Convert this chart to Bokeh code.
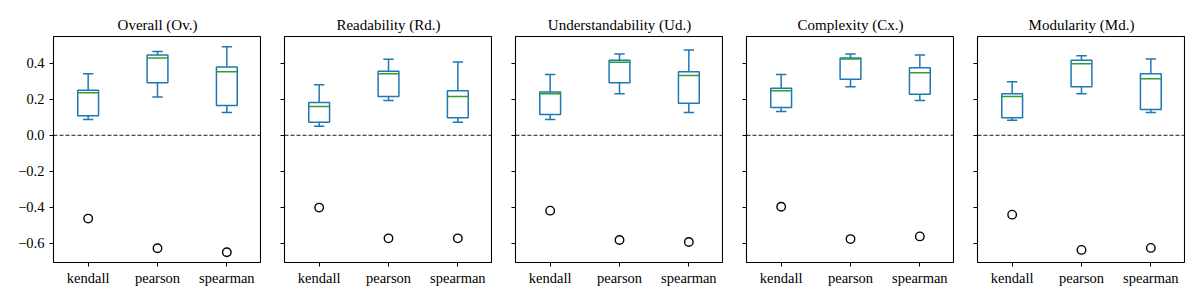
from bokeh.plotting import figure
from bokeh.layouts import row
from bokeh.models import Range1d, FixedTicker, CustomJSTickFormatter, Span, ColumnDataSource
from bokeh.embed import file_html
from bokeh.resources import INLINE

titles = ["Overall (Ov.)", "Readability (Rd.)", "Understandability (Ud.)",
          "Complexity (Cx.)", "Modularity (Md.)"]
methods = ["kendall", "pearson", "spearman"]

# one row per panel, one value per method
whisker_low = [[0.088, 0.213, 0.127], [0.050, 0.193, 0.072], [0.088, 0.231, 0.127],
               [0.132, 0.270, 0.193], [0.083, 0.231, 0.127]]
q1 = [[0.108, 0.292, 0.165], [0.073, 0.215, 0.097], [0.116, 0.292, 0.178],
      [0.154, 0.312, 0.228], [0.097, 0.270, 0.143]]
median = [[0.237, 0.430, 0.353], [0.160, 0.342, 0.215], [0.231, 0.406, 0.332],
          [0.248, 0.424, 0.347], [0.215, 0.397, 0.314]]
q3 = [[0.251, 0.446, 0.380], [0.182, 0.356, 0.248], [0.240, 0.417, 0.353],
      [0.262, 0.430, 0.375], [0.231, 0.417, 0.342]]
whisker_high = [[0.342, 0.466, 0.492], [0.281, 0.422, 0.408], [0.338, 0.452, 0.474],
                [0.338, 0.452, 0.446], [0.297, 0.442, 0.424]]
outliers = [[-0.463, -0.628, -0.650], [-0.402, -0.573, -0.573], [-0.419, -0.582, -0.593],
            [-0.397, -0.577, -0.562], [-0.441, -0.637, -0.626]]

y_ticks = [-0.6, -0.4, -0.2, 0.0, 0.2, 0.4]

FONT = "Liberation Serif"
BLUE = "#1f77b4"
GREEN = "#2ca02c"
LW = 1.5
BOX_HALF = 0.15
CAP_HALF = 0.075

all_vals = [v for grp in (whisker_high, outliers) for r in grp for v in r]
ymin, ymax = min(all_vals), max(all_vals)
pad = (ymax - ymin) * 0.05
y_lo, y_hi = ymin - pad, ymax + pad

figs = []
for i, title in enumerate(titles):
    first = i == 0
    p = figure(frame_width=208, frame_height=226,
               min_border_left=53 if first else 23, min_border_right=0,
               min_border_top=36, min_border_bottom=26,
               x_range=Range1d(0.5, 3.5), y_range=Range1d(y_lo, y_hi),
               output_backend="svg", toolbar_location=None, title=title)
    p.title.align = "center"
    p.title.text_font = FONT
    p.title.text_font_size = "15px"
    p.title.text_font_style = "normal"
    p.title.text_color = "black"
    p.title.standoff = 7
    p.grid.visible = False
    p.outline_line_color = "black"
    p.outline_line_width = 1.1
    p.background_fill_color = "white"
    p.border_fill_color = "white"

    xs = [k + 1 for k in range(len(methods))]
    src = ColumnDataSource(dict(
        x=xs,
        left=[x - BOX_HALF for x in xs], right=[x + BOX_HALF for x in xs],
        cl=[x - CAP_HALF for x in xs], cr=[x + CAP_HALF for x in xs],
        lo=whisker_low[i], q1=q1[i], med=median[i], q3=q3[i], hi=whisker_high[i],
        out=outliers[i]))

    p.add_layout(Span(location=0, dimension="width", line_color="black",
                      line_width=0.9, line_dash="4 2"))
    p.segment(x0="x", y0="q3", x1="x", y1="hi", source=src, line_color=BLUE, line_width=LW)
    p.segment(x0="x", y0="q1", x1="x", y1="lo", source=src, line_color=BLUE, line_width=LW)
    p.segment(x0="cl", y0="hi", x1="cr", y1="hi", source=src, line_color=BLUE, line_width=LW)
    p.segment(x0="cl", y0="lo", x1="cr", y1="lo", source=src, line_color=BLUE, line_width=LW)
    p.quad(left="left", right="right", bottom="q1", top="q3", source=src,
           fill_color=None, line_color=BLUE, line_width=LW)
    p.segment(x0="left", y0="med", x1="right", y1="med", source=src,
              line_color=GREEN, line_width=LW)
    p.scatter(x="x", y="out", source=src, size=8.5, marker="circle",
              fill_color=None, line_color="black", line_width=1.4)

    for ax in (p.xaxis[0], p.yaxis[0]):
        ax.axis_line_color = None
        ax.major_tick_in = 0
        ax.major_tick_out = 4
        ax.major_tick_line_color = "black"
        ax.minor_tick_line_color = None
        ax.major_label_text_font = FONT
        ax.major_label_text_font_size = "14.5px"
        ax.major_label_text_color = "black"

    p.xaxis.ticker = FixedTicker(ticks=xs)
    p.xaxis.major_label_overrides = {x: m for x, m in zip(xs, methods)}
    p.xaxis.major_label_standoff = 3

    p.yaxis.ticker = FixedTicker(ticks=y_ticks)
    p.yaxis.major_label_standoff = 5
    if first:
        p.yaxis.formatter = CustomJSTickFormatter(
            code="return (tick < -1e-9 ? '\u2212' : '') + Math.abs(tick).toFixed(1);")
    else:
        p.yaxis.formatter = CustomJSTickFormatter(code="return '';")
        p.yaxis.major_label_standoff = 0
    figs.append(p)

layout = row(*figs, spacing=0)
open("out.html", "w").write(file_html(layout, INLINE))
